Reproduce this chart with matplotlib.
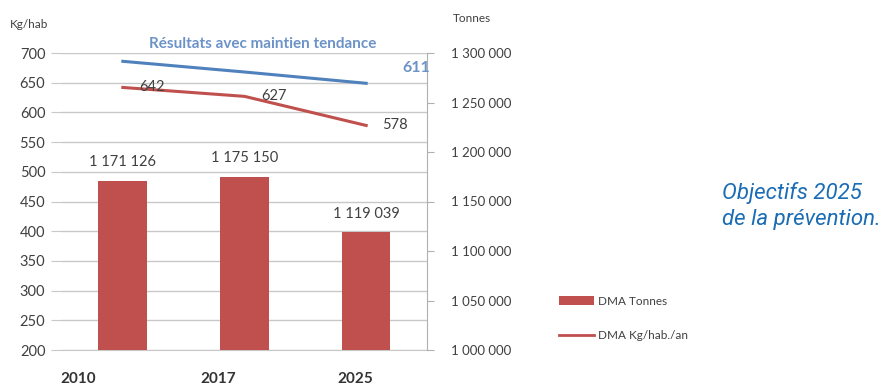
import numpy as np
import matplotlib
matplotlib.use("Agg")
import matplotlib.pyplot as plt
from matplotlib.ticker import FuncFormatter, MultipleLocator
from matplotlib.transforms import ScaledTranslation
from matplotlib.patches import Patch
from matplotlib.lines import Line2D

# data
years = ["2010", "2017", "2025"]
dma_tonnes = [1171126, 1175150, 1119039]
dma_kg = [642, 627, 578]
tendance_kg = [686, 668, 649]
tendance_label = "611"

RED = "#c0504d"
BLUE = "#4f81bd"
GREY_TXT = "#404040"

plt.rcParams["font.family"] = ["Lato", "DejaVu Sans"]

fig = plt.figure(figsize=(8.84, 3.87), dpi=100)
pos = [62 / 884, 1 - 350 / 387, (427 - 62) / 884, (350 - 53) / 387]
ax = fig.add_axes(pos)
x = np.arange(len(years))

# left axis: kg/hab, grid
ax.set_ylim(200, 700)
ax.set_xlim(-0.5, 2.5)
ax.yaxis.set_major_locator(MultipleLocator(50))
ax.grid(axis="y", color="#c8c8c8", linewidth=1)
for s in ["top", "right", "left"]:
    ax.spines[s].set_visible(False)
ax.spines["bottom"].set_color("#c8c8c8")
ax.tick_params(axis="y", length=8, color="#c8c8c8", labelsize=10.5,
               labelcolor=GREY_TXT, pad=4)
ax.set_xticks(x)
ax.set_xticklabels(years, fontsize=11, fontweight="bold", color="#333333")
ax.tick_params(axis="x", length=0, pad=16)
for lab, dx in zip(ax.get_xticklabels(), [-45, -26, -11]):
    lab.set_transform(lab.get_transform() + ScaledTranslation(dx / 100, 0, fig.dpi_scale_trans))

# right axis: tonnes, bars
ax2 = ax.twinx()
ax2.set_ylim(1000000, 1300000)
ax2.yaxis.set_major_locator(MultipleLocator(50000))
ax2.yaxis.set_major_formatter(FuncFormatter(lambda v, p: f"{int(v):,}".replace(",", " ")))
for s in ["top", "left", "bottom"]:
    ax2.spines[s].set_visible(False)
ax2.spines["right"].set_color("#b0b0b0")
ax2.tick_params(axis="y", length=5, color="#b0b0b0", labelsize=9.5,
                labelcolor=GREY_TXT, pad=12)
bars = ax2.bar(x, dma_tonnes, width=0.4, color=RED, zorder=2)
for b, v in zip(bars, dma_tonnes):
    ax2.annotate(f"{v:,}".replace(",", " "), (b.get_x() + b.get_width() / 2, v),
                 xytext=(0, 8), textcoords="offset points", ha="center", va="bottom",
                 fontsize=10.5, color=GREY_TXT)

# overlay axes for the lines so they sit above the bars
ax3 = fig.add_axes(pos, sharex=ax, sharey=ax)
ax3.set_axis_off()
ax3.patch.set_visible(False)
ax3.plot(x, tendance_kg, color=BLUE, linewidth=2.2)
ax3.plot(x, dma_kg, color=RED, linewidth=2.2)
for xi, v in zip(x, dma_kg):
    ax3.annotate(str(v), (xi, v), xytext=(21, 0), textcoords="offset points",
                 ha="center", va="center", fontsize=10.5, color=GREY_TXT)
ax3.annotate(tendance_label, (x[-1], tendance_kg[-1]), xytext=(36, 11),
             textcoords="offset points", ha="center", va="center",
             fontsize=11.5, fontweight="bold", color="#6c93c8")
ax3.text(0.55, 1.03, "Résultats avec maintien tendance", transform=ax3.transAxes,
         ha="center", va="center", fontsize=11, fontweight="bold", color="#6c93c8")

fig.text(10 / 884, 1 - 25 / 387, "Kg/hab", fontsize=8.5, color=GREY_TXT, va="center")
fig.text(453 / 884, 1 - 18 / 387, "Tonnes", fontsize=8.5, color=GREY_TXT, va="center")

handles = [Patch(facecolor=RED), Line2D([0], [0], color=RED, linewidth=2)]
fig.legend(handles, ["DMA Tonnes", "DMA Kg/hab./an"], loc="upper left",
           bbox_to_anchor=(548 / 884, 1 - 285 / 387), frameon=False, fontsize=8.5,
           labelspacing=2.0, handlelength=3, handletextpad=0.3, labelcolor=GREY_TXT)

fig.text(722 / 884, 1 - 206 / 387, "Objectifs 2025\nde la prévention.", fontsize=16,
         style="italic", color="#1a6cb4", va="center", ha="left",
         family=["Roboto", "DejaVu Sans"], linespacing=1.35)

fig.savefig("out.png", dpi=100)
